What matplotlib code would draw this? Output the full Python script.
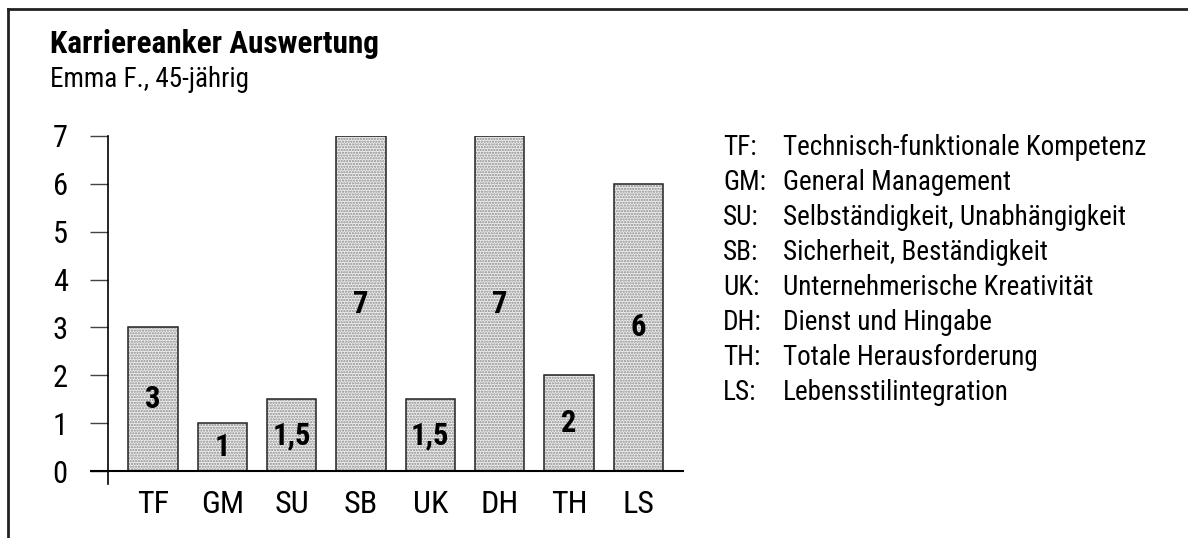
import numpy as np
import matplotlib
matplotlib.use("Agg")
import matplotlib.pyplot as plt
from matplotlib.lines import Line2D

# Daten
categories = ["TF", "GM", "SU", "SB", "UK", "DH", "TH", "LS"]
values = [3, 1, 1.5, 7, 1.5, 7, 2, 6]
value_labels = ["3", "1", "1,5", "7", "1,5", "7", "2", "6"]
descriptions = [
    "Technisch-funktionale Kompetenz",
    "General Management",
    "Selbständigkeit, Unabhängigkeit",
    "Sicherheit, Beständigkeit",
    "Unternehmerische Kreativität",
    "Dienst und Hingabe",
    "Totale Herausforderung",
    "Lebensstilintegration",
]
yticks = [0, 1, 2, 3, 4, 5, 6, 7]
title = "Karriereanker Auswertung"
subtitle = "Emma F., 45-jährig"

plt.rcParams['font.family'] = ['Roboto Condensed', 'DejaVu Sans']
plt.rcParams['hatch.linewidth'] = 1.1

fig = plt.figure(figsize=(11.88, 5.38), dpi=100)
ax = fig.add_axes([90 / 1188, 54 / 538, 594 / 1188, 348 / 538])

x = np.arange(len(categories))
# gepunktete Füllung
ax.bar(x, values, width=0.71, color="#efefef", hatch="......",
       edgecolor="#8a8a8a", linewidth=0)
# Umriss
ax.bar(x, values, width=0.71, fill=False, edgecolor="#222222", linewidth=1.1)

for xi, v, lab in zip(x, values, value_labels):
    ax.text(xi, v / 2, lab, ha="center", va="center", fontsize=22,
            fontweight="bold", color="black")

ax.axhline(0, color="black", linewidth=1.5)

ax.set_xlim(-0.909, 7.66)
ax.set_ylim(-0.27, 7)
for s in ["top", "right", "bottom"]:
    ax.spines[s].set_visible(False)
ax.spines["left"].set_position(("data", -0.649))
ax.spines["left"].set_linewidth(1.2)

ax.set_yticks(yticks)
ax.set_yticklabels([str(t) for t in yticks])
ax.tick_params(axis="y", length=13, width=1, color="#444444", pad=16,
               labelsize=22)
ax.set_xticks(x)
ax.set_xticklabels(categories)
ax.tick_params(axis="x", length=0, pad=4, labelsize=23)

# Titel
fig.text(50 / 1188, 1 - 53 / 538, title, fontsize=22.5, fontweight="bold",
         va="baseline", ha="left")
fig.text(50 / 1188, 1 - 87 / 538, subtitle, fontsize=19.5,
         va="baseline", ha="left")

# Legende
for i, (abbr, desc) in enumerate(zip(categories, descriptions)):
    yb = 1 - (155 + 35 * i) / 538
    fig.text(723 / 1188, yb, abbr + ":", fontsize=19.5, va="baseline", ha="left")
    fig.text(783 / 1188, yb, desc, fontsize=19.5, va="baseline", ha="left")

# Rahmen oben und links
fig.add_artist(Line2D([8 / 1188, 1], [1 - 9 / 538, 1 - 9 / 538],
                      color="#222222", linewidth=2, transform=fig.transFigure))
fig.add_artist(Line2D([8 / 1188, 8 / 1188], [0, 1 - 9 / 538],
                      color="#222222", linewidth=2, transform=fig.transFigure))

fig.savefig("out.png", dpi=100)
